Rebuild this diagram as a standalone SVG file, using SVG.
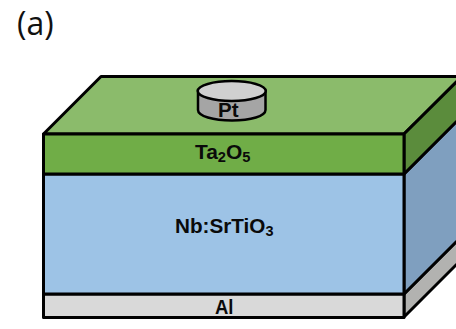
<svg xmlns="http://www.w3.org/2000/svg" width="456" height="329" viewBox="0 0 456 329">
<style>
.e{stroke:#000;stroke-width:3;stroke-linejoin:round}
.d{stroke:#000;stroke-width:2.5}
.l{font-family:"Liberation Sans",Arial,sans-serif;font-weight:bold;font-size:20px;fill:#0a0a0a}
.s{font-size:14px}
</style>
<rect width="456" height="329" fill="#fff"/>
<text x="17" y="35" font-family="'Open Sans',sans-serif" font-size="32" fill="#111">(a)</text>
<g id="substrate-al">
<polygon class="e" points="404,294 462,236 462,259 404,317" fill="#b2b2b0"/>
<rect class="e" x="43.5" y="294" width="360.500" height="23.500" fill="#d9d9d9"/>
<text class="l" x="215" y="313.500" textLength="18.500" lengthAdjust="spacingAndGlyphs">Al</text>
</g>
<g id="nb-srtio3">
<polygon class="e" points="404,174 462,116 462,236 404,294" fill="#7f9fbf"/>
<rect class="e" x="43.500" y="174" width="360.500" height="120" fill="#9dc3e6"/>
<text class="l" x="175" y="233" textLength="98.500" lengthAdjust="spacingAndGlyphs">Nb:SrTiO<tspan class="s" dy="3">3</tspan></text>
</g>
<g id="ta2o5">
<polygon class="e" points="43.500,134 101,76.500 462,76.500 404,134" fill="#8bbb6b"/>
<polygon class="e" points="404,134 462,76.500 462,116 404,174" fill="#5b8c3c"/>
<rect class="e" x="43.500" y="134" width="360.500" height="40" fill="#70ad47"/>
<text class="l" x="195" y="159" textLength="55.500" lengthAdjust="spacingAndGlyphs">Ta<tspan class="s" dy="3">2</tspan><tspan dy="-3">O</tspan><tspan class="s" dy="3">5</tspan></text>
</g>
<g id="pt">
<path class="d" d="M198,91V110C198,116 213,120.500 232,120.500S265.500,116 265.500,110V91Z" fill="#a5a5a5"/>
<ellipse class="d" cx="231.750" cy="91" rx="34" ry="10" fill="#d0d0d0"/>
<text class="l" x="218" y="116.700" textLength="20.500" lengthAdjust="spacingAndGlyphs">Pt</text>
</g>
</svg>
